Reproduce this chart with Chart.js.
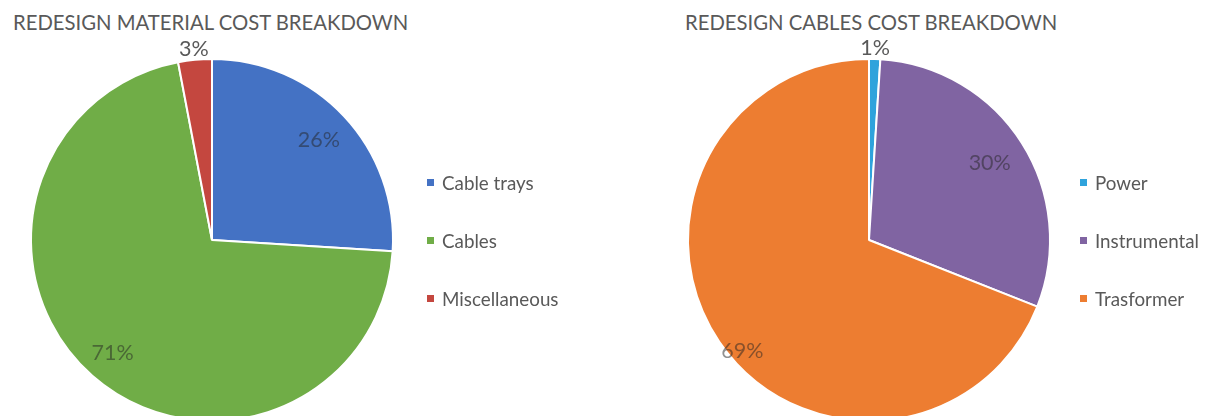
<!DOCTYPE html>
<html>
<head>
<meta charset="utf-8">
<script src="https://cdn.jsdelivr.net/npm/chart.js@4.4.1/dist/chart.umd.min.js"></script>
<style>
  html, body { margin: 0; padding: 0; width: 1218px; height: 416px; overflow: hidden; background: #fff; }
  body { position: relative; font-family: Lato, "Open Sans", sans-serif; color: #595959; }
  .title { position: absolute; top: 12px; font-size: 20.3px; line-height: 1; white-space: nowrap; }
  .box { position: absolute; top: 0; width: 609px; height: 440px; }
  .legend-item { position: absolute; height: 22px; display: flex; align-items: center; font-size: 18.8px; white-space: nowrap; }
  .legend-item span.mark { display: inline-block; width: 7px; height: 7px; margin-right: 8px; }
</style>
</head>
<body>
<div class="title" id="title1" style="left:13px"></div>
<div class="title" id="title2" style="left:685px"></div>
<div class="box" style="left:0"><canvas id="pie1"></canvas></div>
<div class="box" style="left:609px"><canvas id="pie2"></canvas></div>

<script>
// left chart
const materialTitle = "REDESIGN MATERIAL COST BREAKDOWN";
const materialLabels = ["Cable trays", "Cables", "Miscellaneous"];
const materialValues = [26, 71, 3];
const materialColors = ["#4472C4", "#70AD47", "#C4473F"];

// right chart
const cablesTitle = "REDESIGN CABLES COST BREAKDOWN";
const cablesLabels = ["Power", "Instrumental", "Trasformer"];
const cablesValues = [1, 30, 69];
const cablesColors = ["#2FA3DC", "#8064A2", "#ED7D31"];

// draws the % labels on/around each slice
const sliceLabels = {
  id: "sliceLabels",
  afterDatasetsDraw(chart, args, opts) {
    const ctx = chart.ctx;
    const meta = chart.getDatasetMeta(0);
    const values = chart.data.datasets[0].data;
    ctx.save();
    ctx.font = "21.5px Lato, 'Open Sans', sans-serif";
    ctx.textAlign = "center";
    ctx.textBaseline = "middle";
    meta.data.forEach((arc, i) => {
      const mid = (arc.startAngle + arc.endAngle) / 2 + (opts.nudge[i] || 0) * Math.PI / 180;
      const f = opts.radius[i];
      const x = arc.x + Math.cos(mid) * arc.outerRadius * f;
      const y = arc.y + Math.sin(mid) * arc.outerRadius * f;
      ctx.fillStyle = f > 1 ? "#595959" : "rgba(35,35,35,0.5)";
      ctx.fillText(values[i] + "%", x, y);
    });
    ctx.restore();
  },
};

const makePie = (id, labels, values, colors, centerX, placement) => {
  const cnvs = document.getElementById(id);
  return new Chart(cnvs, {
    type: "pie",
    data: {
      labels: labels,
      datasets: [
        {
          data: values,
          backgroundColor: colors,
          borderColor: "#fff",
          borderWidth: 2,
        },
      ],
    },
    options: {
      responsive: true,
      maintainAspectRatio: false,
      animation: false,
      radius: 181,
      layout: {
        padding: { left: 0, right: 609 - 2 * centerX, top: 40, bottom: 0 },
      },
      plugins: {
        legend: { display: false },
        tooltip: { enabled: false },
        sliceLabels: placement,
      },
    },
    plugins: [sliceLabels],
  });
};

const addLegend = (labels, colors, left) => {
  const ys = [182, 240, 298];
  labels.forEach((label, i) => {
    const item = document.createElement("div");
    item.className = "legend-item";
    item.style.left = left + "px";
    item.style.top = ys[i] - 11 + "px";
    item.innerHTML = `<span class="mark" style="background:${colors[i]}"></span>${label}`;
    document.body.appendChild(item);
  });
};

document.getElementById("title1").textContent = materialTitle;
document.getElementById("title2").textContent = cablesTitle;

makePie("pie1", materialLabels, materialValues, materialColors, 212, {
  radius: [0.81, 0.83, 1.06],
  nudge: [0, 0, 0],
});
makePie("pie2", cablesLabels, cablesValues, cablesColors, 869 - 609, {
  radius: [1.06, 0.79, 0.93],
  nudge: [0, 0, -7],
});

addLegend(materialLabels, materialColors, 427);
addLegend(cablesLabels, cablesColors, 1080);
</script>
</body>
</html>
